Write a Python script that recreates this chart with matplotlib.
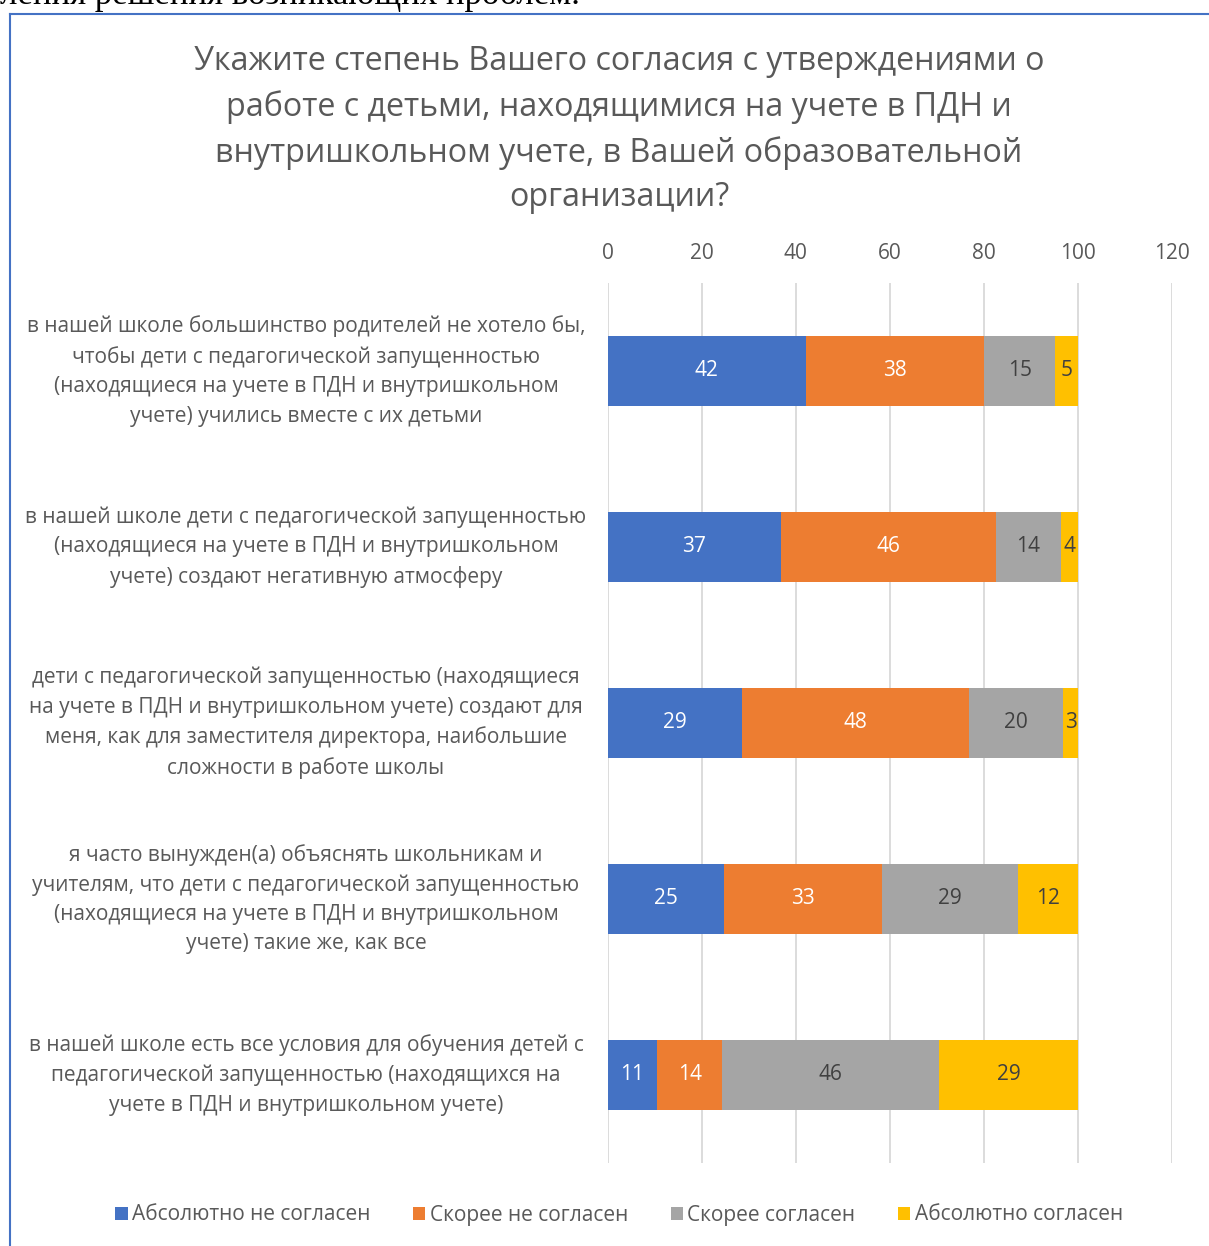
import matplotlib
matplotlib.use("Agg")
import matplotlib.pyplot as plt
from matplotlib.patches import Patch
from matplotlib.lines import Line2D
from matplotlib.transforms import blended_transform_factory

plt.rcParams['font.family'] = ['Open Sans', 'DejaVu Sans']

title = ("Укажите степень Вашего согласия с утверждениями о\n"
         "работе с детьми, находящимися на учете в ПДН и\n"
         "внутришкольном учете, в Вашей образовательной\n"
         "организации?")

categories = [
    "в нашей школе большинство родителей не хотело бы,\nчтобы дети с педагогической запущенностью\n(находящиеся на учете в ПДН и внутришкольном\nучете) учились вместе с их детьми",
    "в нашей школе дети с педагогической запущенностью\n(находящиеся на учете в ПДН и внутришкольном\nучете) создают негативную атмосферу",
    "дети с педагогической запущенностью (находящиеся\nна учете в ПДН и внутришкольном учете) создают для\nменя, как для заместителя директора, наибольшие\nсложности в работе школы",
    "я часто вынужден(а) объяснять школьникам и\nучителям, что дети с педагогической запущенностью\n(находящиеся на учете в ПДН и внутришкольном\nучете) такие же, как все",
    "в нашей школе есть все условия для обучения детей с\nпедагогической запущенностью (находящихся на\nучете в ПДН и внутришкольном учете)",
]

series_names = ["Абсолютно не согласен", "Скорее не согласен", "Скорее согласен", "Абсолютно согласен"]
colors = ["#4472C4", "#ED7D31", "#A5A5A5", "#FFC000"]
label_colors = ["white", "white", "#404040", "#404040"]

# bar lengths
abs_disagree = [42.1, 36.9, 28.6, 24.8, 10.6]
rather_disagree = [38.0, 45.7, 48.3, 33.5, 13.8]
rather_agree = [15.1, 13.8, 20.0, 29.0, 46.1]
abs_agree = [4.8, 3.6, 3.1, 12.7, 29.5]

# data labels as printed on the chart
lab_abs_disagree = ["42", "37", "29", "25", "11"]
lab_rather_disagree = ["38", "46", "48", "33", "14"]
lab_rather_agree = ["15", "14", "20", "29", "46"]
lab_abs_agree = ["5", "4", "3", "12", "29"]

x_ticks = [0, 20, 40, 60, 80, 100, 120]

W, H = 1209, 1246
fig = plt.figure(figsize=(W / 100, H / 100), dpi=100)

# cut-off text of the surrounding document
fig.text(0.0, 1 - 4 / H, "ления решения возникающих проблем.", fontsize=25,
         family=['Liberation Serif', 'DejaVu Serif'], color='black', ha='left', va='baseline')

# chart frame (left and top edges visible)
fig.add_artist(Line2D([10 / W, 10 / W], [0, 1 - 14 / H], transform=fig.transFigure,
                      color="#4472C4", lw=1.5))
fig.add_artist(Line2D([10 / W, 1], [1 - 14 / H, 1 - 14 / H], transform=fig.transFigure,
                      color="#4472C4", lw=1.5))

fig.text(619 / W, 1 - 129.5 / H, title, ha='center', va='center', fontsize=23.2,
         color='#595959', linespacing=1.47)

left, right, top, bottom = 607.5, 1172, 283, 1163
ax = fig.add_axes([left / W, 1 - bottom / H, (right - left) / W, (bottom - top) / H])

series = [abs_disagree, rather_disagree, rather_agree, abs_agree]
labels = [lab_abs_disagree, lab_rather_disagree, lab_rather_agree, lab_abs_agree]
ypos = list(range(len(categories)))
cum = [0.0] * len(categories)
for vals, labs, name, col, lc in zip(series, labels, series_names, colors, label_colors):
    bars = ax.barh(ypos, vals, left=cum, height=0.4, color=col, label=name, zorder=3)
    ax.bar_label(bars, labels=labs, label_type='center', color=lc, fontsize=15)
    cum = [c + v for c, v in zip(cum, vals)]

ax.set_xlim(0, 120)
ax.set_ylim(4.5, -0.5)
ax.set_xticks(x_ticks)
ax.xaxis.tick_top()
ax.tick_params(axis='x', length=0, labelsize=15, labelcolor='#595959', pad=14)
ax.set_yticks([])
ax.grid(axis='x', color='#D9D9D9', lw=1.3, zorder=0)
for s in ax.spines.values():
    s.set_visible(False)

tr = blended_transform_factory(fig.transFigure, ax.transData)
for i, cat in enumerate(categories):
    fig.text(306 / W, i, cat, transform=tr, ha='center', va='center',
             fontsize=15, color='#595959', linespacing=1.52)

handles = [Patch(facecolor=c, label=n) for c, n in zip(colors, series_names)]
leg = fig.legend(handles=handles, loc='center', bbox_to_anchor=(619 / W, 1 - 1215 / H), ncol=4,
                 frameon=False, fontsize=15, handlelength=0.6, handleheight=0.6,
                 handletextpad=0.2, columnspacing=2.05)
for t in leg.get_texts():
    t.set_color('#595959')

fig.savefig("out.png", dpi=100)
